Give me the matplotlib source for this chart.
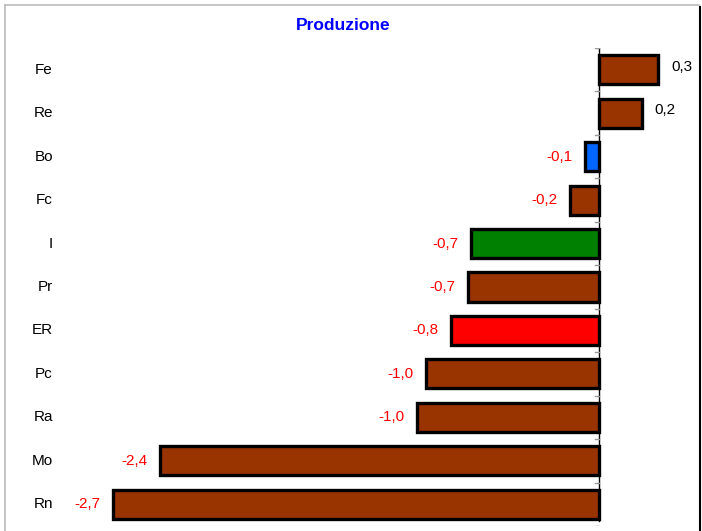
import matplotlib.pyplot as plt
from matplotlib.lines import Line2D

plt.rcParams['font.family'] = ['Liberation Sans', 'DejaVu Sans']

categories = ["Fe", "Re", "Bo", "Fc", "I", "Pr", "ER", "Pc", "Ra", "Mo", "Rn"]
values = [0.33, 0.24, -0.08, -0.16, -0.71, -0.73, -0.82, -0.96, -1.01, -2.44, -2.70]
bar_colors = ["#993300", "#993300", "#0066FF", "#993300", "#008000", "#993300",
              "#FF0000", "#993300", "#993300", "#993300", "#993300"]

W, H = 702, 531
fig = plt.figure(figsize=(W / 100, H / 100), dpi=100)

# axes placed in pixel terms
left, right, top, bottom = 60, 690, 48, 526
ax = fig.add_axes([left / W, 1 - bottom / H, (right - left) / W, (bottom - top) / H])

scale = 180.0  # px per unit
zero_px = 599
ax.set_xlim((left - zero_px) / scale, (right - zero_px) / scale)
n = len(categories)
ax.set_ylim(n - 0.5, -0.5)

ypos = list(range(n))
ax.barh(ypos, values, height=0.67, color=bar_colors, edgecolor="black",
        linewidth=2.4, zorder=3)

for y, v in zip(ypos, values):
    txt = f"{v:.1f}".replace(".", ",")
    if v < 0:
        ax.annotate(txt, (v, y), xytext=(-9, 0), textcoords="offset points",
                    ha="right", va="center", fontsize=11, color="#FF0000")
    else:
        ax.annotate(txt, (v, y), xytext=(9, 2), textcoords="offset points",
                    ha="left", va="center", fontsize=11, color="black")

# category axis at zero with small gray ticks at boundaries
ax.axvline(0, ymin=0.01, color="black", lw=1.0, zorder=4)
tick_len = 4 / scale
for b in range(n + 1):
    ax.plot([-tick_len, 0], [b - 0.5, b - 0.5], color="#999999", lw=1.0, zorder=4)

ax.set_xticks([])
ax.set_yticks([])
for s in ax.spines.values():
    s.set_visible(False)

# category labels on the left
for y, c in zip(ypos, categories):
    fig.text(53 / W, 1 - (top + (y + 0.5) * (bottom - top) / n) / H, c,
             ha="right", va="center", fontsize=11, color="black")

fig.text(343 / W, 1 - 25 / H, "Produzione", ha="center", va="center",
         fontsize=12.5, fontweight="bold", color="#0000FF")

# outer chart frame
fig.add_artist(Line2D([5 / W, 5 / W], [0, 1 - 5 / H], color="#BBBBBB", lw=1.2))
fig.add_artist(Line2D([5 / W, 699 / W], [1 - 5 / H, 1 - 5 / H], color="#BBBBBB", lw=1.2))
fig.add_artist(Line2D([700 / W, 700 / W], [0, 1 - 7 / H], color="black", lw=1.5))

fig.savefig("out.png", dpi=100)
